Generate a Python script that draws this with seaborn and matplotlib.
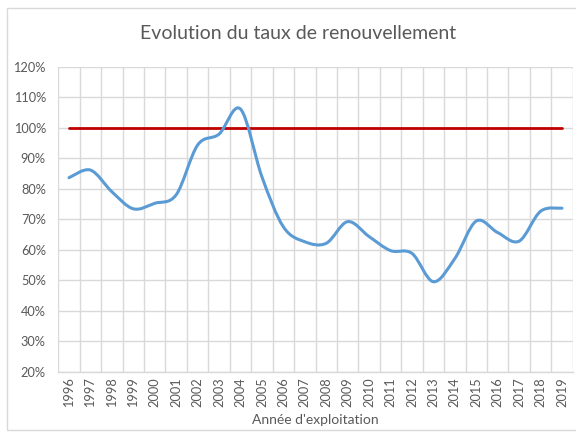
import numpy as np
import pandas as pd
import matplotlib.pyplot as plt
import seaborn as sns
from matplotlib.path import Path
from matplotlib.patches import PathPatch, Rectangle
from matplotlib.ticker import FuncFormatter, MultipleLocator

# -----------------------------
# Data
# -----------------------------
years = [1996, 1997, 1998, 1999, 2000, 2001, 2002, 2003, 2004, 2005, 2006, 2007,
         2008, 2009, 2010, 2011, 2012, 2013, 2014, 2015, 2016, 2017, 2018, 2019]
taux = [83.6, 86.1, 79.0, 73.4, 75.2, 78.0, 94.3, 97.9, 106.1, 83.9, 67.5, 62.6,
        62.1, 69.2, 64.3, 59.7, 58.8, 49.5, 57.1, 69.4, 65.6, 62.8, 72.6, 73.6]
objectif = [100, 100, 100, 100, 100, 100, 100, 100, 100, 100, 100, 100,
            100, 100, 100, 100, 100, 100, 100, 100, 100, 100, 100, 100]

df = pd.DataFrame({"annee": years, "taux": taux, "objectif": objectif})

# -----------------------------
# Style
# -----------------------------
sns.set_theme(style="white")
plt.rcParams["font.family"] = ["Lato", "DejaVu Sans"]
grey_txt = "#595959"
grid_col = "#d9d9d9"

fig = plt.figure(figsize=(5.76, 4.33), dpi=100)
ax = fig.add_axes([0.1012, 0.1416, 0.8931, 0.7044])

# chart border (Excel chart area)
fig.patches.append(Rectangle((7 / 576, 3 / 433), 1.2, 1 - 11 / 433,
                             transform=fig.transFigure, fill=False,
                             edgecolor=grid_col, lw=1.0))

# target line
sns.lineplot(data=df, x="annee", y="objectif", color="#c00000", lw=2.0, ax=ax)

# smoothed series (Excel-style bezier through the points)
x = df["annee"].to_numpy(float)
y = df["taux"].to_numpy(float)
n = len(x)
verts = [(x[0], y[0])]
codes = [Path.MOVETO]
for i in range(n - 1):
    i0, i2, i3 = max(i - 1, 0), i + 1, min(i + 2, n - 1)
    c1 = (x[i] + (x[i2] - x[i0]) / 6, y[i] + (y[i2] - y[i0]) / 6)
    c2 = (x[i2] - (x[i3] - x[i]) / 6, y[i2] - (y[i3] - y[i]) / 6)
    verts += [c1, c2, (x[i2], y[i2])]
    codes += [Path.CURVE4] * 3
ax.add_patch(PathPatch(Path(verts, codes), fill=False, edgecolor="#5b9bd5",
                       lw=2.2, capstyle="round", joinstyle="round", zorder=3))

# -----------------------------
# Axes
# -----------------------------
ax.set_xlim(years[0] - 0.5, years[-1] + 0.5)
ax.set_ylim(20, 120)
ax.yaxis.set_major_locator(MultipleLocator(10))
ax.yaxis.set_major_formatter(FuncFormatter(lambda v, p: f"{v:.0f}%"))
ax.set_xticks(years)
ax.set_xticklabels([str(a) for a in years], rotation=90)
ax.set_xticks([a - 0.5 for a in years] + [years[-1] + 0.5], minor=True)

ax.grid(axis="y", which="major", color=grid_col, lw=1.0)
ax.grid(axis="x", which="minor", color=grid_col, lw=1.0)
ax.set_axisbelow(True)
for s in ["top", "right", "left"]:
    ax.spines[s].set_visible(False)
ax.spines["bottom"].set_color(grid_col)
ax.spines["bottom"].set_linewidth(1.0)

ax.tick_params(axis="y", length=0, pad=9, labelsize=9.2, labelcolor=grey_txt)
ax.tick_params(axis="x", which="both", length=0, pad=4, labelsize=9.2,
               labelcolor=grey_txt)

ax.set_xlabel("Année d'exploitation", fontsize=10, color=grey_txt, labelpad=5)
ax.set_ylabel("")
ax.legend_ = None

fig.text(0.5175, 0.922, "Evolution du taux de renouvellement", ha="center",
         va="center", fontsize=14, color=grey_txt)

fig.savefig("out.png", dpi=100)
